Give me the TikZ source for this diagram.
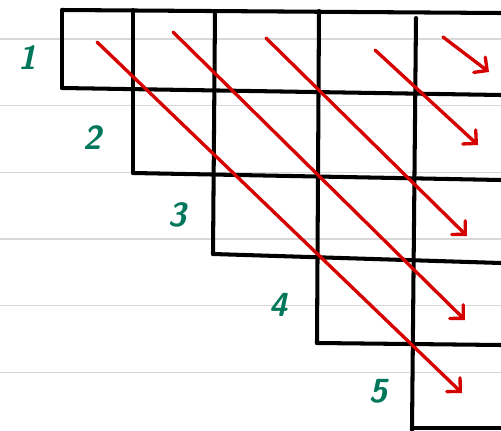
\documentclass[tikz,border=0pt]{standalone}
\usetikzlibrary{arrows.meta}

\definecolor{inkred}{HTML}{D50000}
\definecolor{inkgreen}{HTML}{00775A}
\definecolor{ruling}{HTML}{D8D8D8}

\begin{document}
\begin{tikzpicture}[
  x={(0.02cm,0)}, y={(0,-0.02cm)},
  rule/.style={draw=ruling,line width=0.8pt},
  cell/.style={draw=black,line width=2.3pt,line cap=round,line join=round},
  diag/.style={-{Straight Barb[angle=90:0.27cm,line cap=round]},draw=inkred,
               line width=1.9pt,line cap=round},
  num/.style={text=inkgreen,font=\sffamily\bfseries\slshape\fontsize{19}{20}\selectfont,
              inner sep=0pt},
]
\useasboundingbox (0,0) rectangle (501,430);

%% ---------------------------------------------------------------- ruling
\foreach \ry in {39,105.7,172.3,239,305.7,372.3}{
  \draw[rule] (0,\ry) -- (501,\ry);
}

%% ------------------------------------------------------------------ grid
\draw[cell] (62,10) -- (501,13);
\draw[cell] (62,88) -- (501,95);
\draw[cell] (133,173) -- (501,180);
\draw[cell] (213,254) -- (501,263);
\draw[cell] (317,343) -- (501,345);
\draw[cell] (412,428) -- (501,428);
\draw[cell] (62,10) -- (62,88);
\draw[cell] (133,10) -- (133,173);
\draw[cell] (215,11) -- (213,254);
\draw[cell] (319,11) -- (317,343);
\draw[cell] (416,18) -- (412,430);

%% ---------------------------------------------------------------- labels
\node[num] (n1) at (27,58) {1};
\node[num] (n2) at (92,138) {2};
\node[num] (n3) at (177,215) {3};
\node[num] (n4) at (278,305) {4};
\node[num] (n5) at (378,391) {5};

%% ------------------------------------------------------------- diagonals
\foreach \dn/\sx/\sy/\ex/\ey in {a/97/42/462/393, b/173/32/465/320, c/266/38/467/236,
                                  d/375/50/478/145, e/443/37/489/72}{
  \coordinate (s\dn) at (\sx,\sy);
  \coordinate (e\dn) at (\ex,\ey);
  \draw[diag] (s\dn) -- (e\dn);
}

\end{tikzpicture}
\end{document}
